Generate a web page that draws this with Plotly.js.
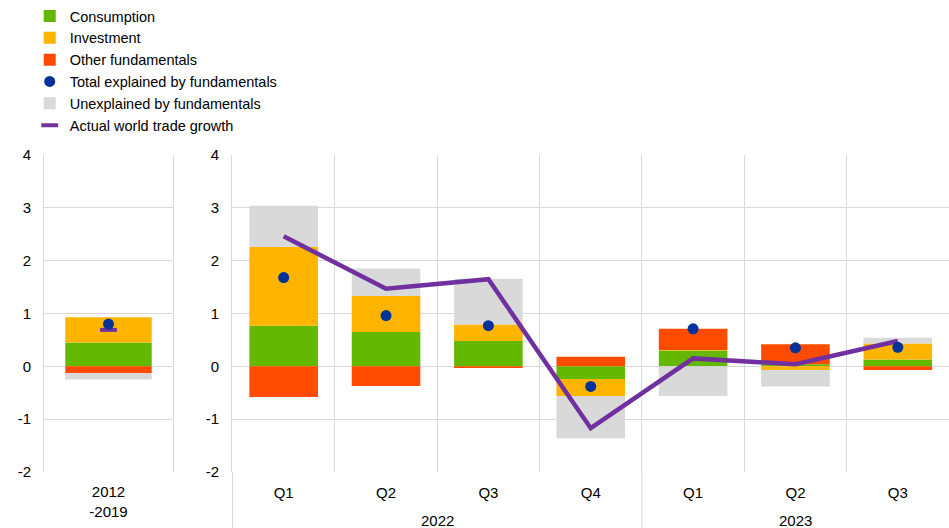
<!DOCTYPE html>
<html>
<head>
<meta charset="utf-8">
<script src="https://cdn.plot.ly/plotly-3.0.1.min.js"></script>
<style>html,body{margin:0;padding:0;background:#fff;}#chart{width:949px;height:528px;}</style>
</head>
<body>
<div id="chart"></div>
<script>
// Left panel (average 2012-2019)
const avgLabel = ['2012<br>-2019'];
const avgConsumption = [0.45];
const avgInvestment = [0.48];
const avgOther = [-0.13];
const avgUnexplained = [-0.12];
const avgTotal = [0.80];
const avgActual = [0.69];

// Main panel (quarters)
const years = ['2022', '2022', '2022', '2022', '2023', '2023', '2023'];
const quarters = ['Q1', 'Q2', 'Q3', 'Q4', 'Q1', 'Q2', 'Q3'];
const consumption = [0.77, 0.65, 0.48, -0.24, 0.30, 0.04, 0.13];
const investment = [1.49, 0.68, 0.31, -0.32, 0.01, -0.07, 0.30];
const other = [-0.58, -0.37, -0.03, 0.18, 0.40, 0.38, -0.07];
const unexplained = [0.78, 0.52, 0.87, -0.80, -0.56, -0.31, 0.11];
const total = [1.68, 0.96, 0.77, -0.38, 0.71, 0.35, 0.36];
const actual = [2.46, 1.47, 1.65, -1.17, 0.15, 0.04, 0.48];

// Y-axis ticks
const yTickVals = [-2, -1, 0, 1, 2, 3, 4];
const yTickText = ['-2', '-1', '0', '1', '2', '3', '4'];

const periodIds = years.map((y, i) => y + ' ' + quarters[i]);

const C = {
  cons: '#65B800', inv: '#FFB400', oth: '#FF4B00',
  tot: '#003299', unex: '#D9D9D9', act: '#7030A0'
};
const grid = '#D9D9D9';
const FAM = 'Liberation Sans, Arial, sans-serif';
const tickFont = {family: FAM, size: 15, color: '#000'};
const legFont = {family: FAM, size: 14.5, color: '#000'};

function bar(name, x, y, color, xa, ya, show, rank) {
  return {type: 'bar', name: name, x: x, y: y, xaxis: xa, yaxis: ya,
    marker: {color: color, line: {width: 0}}, width: 0.67,
    showlegend: show, legendgroup: name, legendrank: rank, hoverinfo: 'skip'};
}

const traces = [
  bar('Consumption', avgLabel, avgConsumption, C.cons, 'x', 'y', true, 1),
  bar('Investment', avgLabel, avgInvestment, C.inv, 'x', 'y', true, 2),
  bar('Other fundamentals', avgLabel, avgOther, C.oth, 'x', 'y', true, 3),
  bar('Unexplained by fundamentals', avgLabel, avgUnexplained, C.unex, 'x', 'y', true, 5),
  bar('Consumption', periodIds, consumption, C.cons, 'x2', 'y2', false, 1),
  bar('Investment', periodIds, investment, C.inv, 'x2', 'y2', false, 2),
  bar('Other fundamentals', periodIds, other, C.oth, 'x2', 'y2', false, 3),
  bar('Unexplained by fundamentals', periodIds, unexplained, C.unex, 'x2', 'y2', false, 5),
  {type: 'scatter', mode: 'markers', name: 'Actual world trade growth', x: avgLabel, y: avgActual,
    xaxis: 'x', yaxis: 'y', legendgroup: 'act', legendrank: 6, showlegend: true,
    marker: {symbol: 'line-ew', size: 12, color: C.act, line: {color: C.act, width: 4}}, hoverinfo: 'skip'},
  {type: 'scatter', mode: 'lines', name: 'Actual world trade growth', x: periodIds, y: actual,
    xaxis: 'x2', yaxis: 'y2', legendgroup: 'act', showlegend: false,
    line: {color: C.act, width: 4.5}, hoverinfo: 'skip'},
  {type: 'scatter', mode: 'markers', name: 'Total explained by fundamentals', x: avgLabel, y: avgTotal,
    xaxis: 'x', yaxis: 'y', legendgroup: 'tot', legendrank: 4, showlegend: true,
    marker: {size: 11, color: C.tot}, hoverinfo: 'skip'},
  {type: 'scatter', mode: 'markers', name: 'Total explained by fundamentals', x: periodIds, y: total,
    xaxis: 'x2', yaxis: 'y2', legendgroup: 'tot', showlegend: false,
    marker: {size: 11, color: C.tot}, hoverinfo: 'skip'}
];

const yCommon = {range: [-2, 4], tickvals: yTickVals, ticktext: yTickText, gridcolor: grid, gridwidth: 1,
  zeroline: false, showline: true, linecolor: grid, linewidth: 1,
  ticks: 'outside', ticklen: 9, tickcolor: 'rgba(0,0,0,0)', tickfont: tickFont, fixedrange: true};

// Year group labels and dividers (computed from the years array)
const uniqYears = [...new Set(years)];
const annotations = uniqYears.map(yr => {
  const idx = years.map((y, i) => y === yr ? i : -1).filter(i => i >= 0);
  return {xref: 'x2', yref: 'paper', x: (idx[0] + idx[idx.length - 1]) / 2, y: -48/317,
    text: yr, showarrow: false, font: tickFont, xanchor: 'center', yanchor: 'middle'};
});
const shapes = uniqYears.map(yr => {
  const first = years.indexOf(yr);
  return {type: 'line', xref: 'x2', yref: 'paper', x0: first - 0.5, x1: first - 0.5,
    y0: 0, y1: -56/317, line: {color: grid, width: 1}};
});

const layout = {
  width: 949, height: 528,
  margin: {l: 0, r: 0, t: 155, b: 56, autoexpand: false},
  paper_bgcolor: '#fff', plot_bgcolor: '#fff',
  barmode: 'relative', bargap: 0.33,
  font: tickFont,
  showlegend: true,
  legend: {xref: 'container', yref: 'container', x: 0.0313, y: 1.0, xanchor: 'left', yanchor: 'top',
    font: legFont, tracegroupgap: 0, itemclick: false, bgcolor: 'rgba(0,0,0,0)'},
  xaxis: {domain: [44/949, 173/949], type: 'category', showgrid: false, showline: false,
    ticks: 'outside', ticklen: 6, tickcolor: 'rgba(0,0,0,0)', tickfont: tickFont, fixedrange: true},
  yaxis: Object.assign({}, yCommon, {anchor: 'x', mirror: true}),
  xaxis2: {domain: [232/949, 1], type: 'category', anchor: 'y2', tickson: 'boundaries',
    tickvals: periodIds, ticktext: quarters,
    showgrid: true, gridcolor: grid, showline: false,
    ticks: '', ticklabelstandoff: 10, tickfont: tickFont, fixedrange: true},
  yaxis2: Object.assign({}, yCommon, {anchor: 'x2'}),
  annotations: annotations,
  shapes: shapes
};

Plotly.newPlot('chart', traces, layout, {staticPlot: true, displayModeBar: false});
</script>
</body>
</html>
